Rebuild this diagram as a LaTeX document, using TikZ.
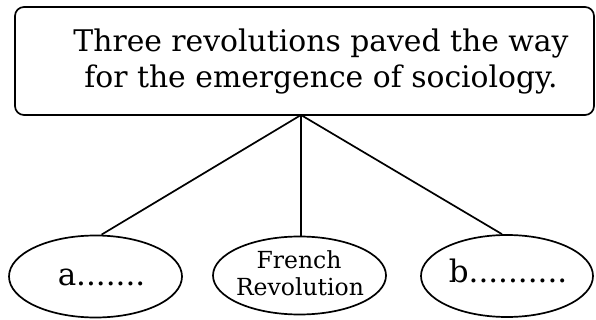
\documentclass[tikz,border=0pt]{standalone}
\usepackage{fontspec}
\setmainfont{DejaVu Serif}
\usetikzlibrary{shapes.geometric}
\begin{document}
\begin{tikzpicture}[x=1pt,y=-1pt,
  line width=1.7pt,
  topbox/.style={draw,rounded corners=9pt,minimum width=579pt,minimum height=108pt,inner sep=0pt},
  oval/.style={draw,ellipse,inner sep=0pt},
  bigtxt/.style={font=\fontsize{29.8}{34}\selectfont,inner sep=0pt,anchor=base},
  labtxt/.style={font=\fontsize{31}{34}\selectfont,inner sep=0pt,anchor=base},
  smalltxt/.style={font=\fontsize{23.5}{26}\selectfont,inner sep=0pt,anchor=base}]
\useasboundingbox (0,0) rectangle (596,320);
\node[topbox] (box) at (304.5,61) {};
\node[bigtxt] (t1) at (321,52) {Three revolutions paved the way};
\node[bigtxt] (t2) at (321,88) {for the emergence of sociology.};
\coordinate (root) at (301,115);
\node[oval,minimum width=173pt,minimum height=82pt] (ea) at (95.5,276.5) {};
\node[oval,minimum width=173pt,minimum height=78pt] (ef) at (299.5,275.5) {};
\node[oval,minimum width=172pt,minimum height=82pt] (eb) at (507,276) {};
\node[labtxt] (ta) at (101.5,285) {a.......};
\node[smalltxt] (tf1) at (299,268) {French};
\node[smalltxt] (tf2) at (300,295) {Revolution};
\node[labtxt] (tb) at (508,282) {b..........};
\draw (root) -- ([xshift=6pt]ea.north);
\draw (root) -- ([xshift=1.5pt]ef.north);
\draw (root) -- ([xshift=-5pt]eb.north);
\end{tikzpicture}
\end{document}
